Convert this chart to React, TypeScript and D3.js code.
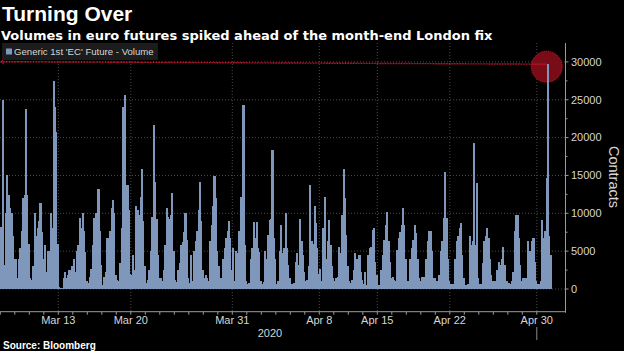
import React from "react";
import * as d3 from "d3";

// trading sessions shown on the axis (Good Friday Apr 10 is missing)
const tradingDays = [
  "Mar 9", "Mar 10", "Mar 11", "Mar 12", "Mar 13",
  "Mar 16", "Mar 17", "Mar 18", "Mar 19", "Mar 20",
  "Mar 23", "Mar 24", "Mar 25", "Mar 26", "Mar 27",
  "Mar 30", "Mar 31", "Apr 1", "Apr 2", "Apr 3",
  "Apr 6", "Apr 7", "Apr 8", "Apr 9",
  "Apr 13", "Apr 14", "Apr 15", "Apr 16", "Apr 17",
  "Apr 20", "Apr 21", "Apr 22", "Apr 23", "Apr 24",
  "Apr 27", "Apr 28", "Apr 29", "Apr 30",
];

const slotsPerDay = 10;

// contracts traded per intraday slot, one row per session
const volumes = [
  8200, 25000, 3200, 10000, 15000, 12400, 10700, 10000, 7000, 4000, // Mar 9
  4000, 1500, 4000, 5400, 7600, 12000, 12400, 23800, 12400, 6000, // Mar 10
  1500, 1200, 3000, 10000, 7000, 8000, 9000, 11300, 7500, 4000, // Mar 11
  5800, 2300, 5000, 5000, 10000, 8000, 27500, 24000, 20800, 6000, // Mar 12
  300, 100, 100, 1500, 2300, 1400, 1800, 2500, 1400, 3000, // Mar 13
  4000, 2300, 5000, 5800, 9400, 8000, 10000, 7600, 4900, 1000, // Mar 16
  800, 1600, 2700, 5800, 9400, 10000, 8500, 13200, 7600, 3200, // Mar 17
  500, 1600, 2300, 6700, 6700, 7600, 10700, 11800, 10000, 1800, // Mar 18
  1200, 1000, 3500, 8000, 24000, 25600, 12000, 13800, 10500, 2000, // Mar 19
  1800, 4500, 2500, 11000, 10500, 9800, 12200, 15800, 9000, 3000, // Mar 20
  800, 1200, 2500, 5000, 9500, 21700, 14200, 9300, 4500, 1400, // Mar 23
  1400, 1000, 2500, 5800, 10700, 9500, 9300, 9800, 12700, 5000, // Mar 24
  1200, 900, 2500, 3500, 5800, 6200, 7500, 10000, 6500, 1500, // Mar 25
  800, 4500, 1000, 5000, 6300, 7600, 10500, 14200, 9000, 2500, // Mar 26
  1400, 1800, 1400, 1000, 6300, 8500, 11000, 14900, 12000, 5000, // Mar 27
  3000, 1400, 1400, 4000, 5400, 6700, 7600, 9000, 6700, 2500, // Mar 30
  5400, 1000, 5000, 4800, 7600, 12200, 12000, 24300, 5800, 1000, // Mar 31
  700, 800, 4000, 5400, 8900, 6700, 8900, 5400, 4900, 1000, // Apr 1
  700, 900, 5000, 4000, 7100, 9100, 9300, 18400, 6700, 4000, // Apr 2
  700, 1000, 5000, 8500, 4700, 5400, 10000, 5400, 3200, 1400, // Apr 3
  700, 600, 800, 3600, 4700, 3200, 9300, 6300, 4500, 2300, // Apr 6
  1000, 1200, 3000, 13800, 6300, 6000, 11000, 8700, 5400, 2000, // Apr 7
  2700, 1000, 8000, 12200, 4000, 6300, 9100, 5800, 3000, 1500, // Apr 8
  1000, 1500, 1600, 5600, 4700, 9800, 15800, 12000, 7100, 3000, // Apr 9
  1000, 800, 1200, 2500, 4700, 4000, 2700, 4500, 2300, 1200, // Apr 13
  700, 2300, 500, 4500, 5400, 5600, 7800, 8000, 3600, 1800, // Apr 14
  500, 500, 2500, 4500, 6500, 8500, 10200, 6300, 3600, 1400, // Apr 15
  1600, 1200, 1000, 5200, 6700, 7500, 8500, 10700, 8500, 4000, // Apr 16
  1000, 1000, 4000, 5400, 6500, 8500, 7400, 4000, 1400, 1000, // Apr 17
  1600, 1600, 1600, 4000, 6300, 7600, 7600, 5000, 1400, 1400, // Apr 20
  1000, 1000, 1800, 5000, 6300, 9400, 15500, 9400, 4000, 1000, // Apr 21
  700, 600, 600, 4000, 6300, 7000, 8000, 8700, 4500, 1400, // Apr 22
  500, 500, 600, 7000, 5800, 6300, 19300, 5800, 14000, 1400, // Apr 23
  700, 700, 3500, 6300, 7000, 8000, 6700, 4000, 1800, 1000, // Apr 24
  1000, 1000, 2500, 3600, 3200, 4000, 5600, 3200, 1000, 1000, // Apr 27
  800, 700, 1000, 2300, 7600, 9800, 9800, 6700, 3200, 1000, // Apr 28
  1400, 1400, 1400, 6300, 5000, 5000, 6300, 6700, 3600, 1000, // Apr 29
  700, 700, 1000, 9100, 6700, 7600, 14600, 29700, 7000, 4500, // Apr 30
];

const xLabels = ["Mar 13", "Mar 20", "Mar 31", "Apr 8", "Apr 15", "Apr 22", "Apr 30"];
const yTicks = [0, 5000, 10000, 15000, 20000, 25000, 30000];

const W = 624;
const H = 351;
const FONT = "'Liberation Sans', Arial, sans-serif";
const barColor = "#7f97ba";
const gridColor = "#4a4a4a";
const textColor = "#d6d6d6";
const red = "#d31530";

export default function App() {
  const plotLeft = 0.3;
  const plotRight = 551.3;
  const axisX = 565.5;
  const plotTop = 43;
  const axisY = 311.7;

  const dayScale = d3.scaleBand().domain(tradingDays).range([plotLeft, plotRight]).padding(0);
  const slotKeys = volumes.map((_, i) => String(i));
  const x = d3.scaleBand().domain(slotKeys).range([plotLeft, plotRight]).padding(0);
  const y = d3.scaleLinear().domain([-3000, 32500]).range([axisY, plotTop]);

  const minorTicks = d3.range(2500, 32500, 5000);

  // the month-end spike gets the red call-out
  const maxIdx = d3.maxIndex(volumes);
  const maxX = (x(String(maxIdx)) as number) + x.bandwidth() / 2;
  const maxY = y(volumes[maxIdx]);

  return (
    <div style={{ position: "absolute", left: 0, top: 0 }}>
      <svg width={W} height={H} style={{ display: "block", background: "#000" }} fontFamily={FONT}>
        <rect width={W} height={H} fill="#000" />

        {/* titles */}
        <text x={2} y={21} fill="#fff" fontSize={21} fontWeight="bold">Turning Over</text>
        <text x={1} y={39.5} fill="#fff" fontSize={13} fontWeight="bold" fontFamily="'DejaVu Sans', sans-serif">
          Volumes in euro futures spiked ahead of the month-end London fix
        </text>

        {/* horizontal grid */}
        {yTicks.map(t => (
          <line key={"hg" + t} x1={0} x2={axisX} y1={y(t)} y2={y(t)} stroke={gridColor} strokeDasharray="1,2" />
        ))}
        {/* vertical grid at labelled sessions */}
        {xLabels.map(l => (
          <line key={"vg" + l} x1={dayScale(l)} x2={dayScale(l)} y1={plotTop} y2={axisY} stroke={gridColor} strokeDasharray="1,2" />
        ))}

        {/* highlight circle behind spike */}
        <circle cx={maxX - 1} cy={maxY + 2.5} r={15.5} fill="#7a0c18" stroke={red} strokeDasharray="1,1" />

        {/* bars */}
        <g shapeRendering="crispEdges">
          {volumes.map((v, i) => (
            <rect
              key={i}
              x={x(String(i))}
              y={y(v)}
              width={x.bandwidth() + 0.6}
              height={y(0) - y(v)}
              fill={barColor}
            />
          ))}
        </g>

        {/* annotation line */}
        <line x1={1} x2={maxX - 1} y1={maxY - 2.5} y2={maxY} stroke={red} strokeWidth={1.4} strokeDasharray="1,0.6" />
        <polyline points={`4,${maxY - 5} 1,${maxY - 2.5} 4,${maxY}`} fill="none" stroke={red} strokeWidth={1} />

        {/* legend */}
        <rect x={2} y={43} width={156} height={17} fill="#1c1c1c" />
        <rect x={6} y={48.5} width={6} height={6} fill={barColor} />
        <text x={14} y={55.3} fill={textColor} fontSize={9.6}>Generic 1st 'EC' Future - Volume</text>

        {/* x axis */}
        <line x1={0} x2={axisX} y1={axisY} y2={axisY} stroke="#9a9a9a" />
        {tradingDays.map(d => (
          <line key={"xt" + d} x1={dayScale(d)} x2={dayScale(d)} y1={axisY} y2={axisY + 3} stroke="#9a9a9a" />
        ))}
        {xLabels.map(l => (
          <text key={"xl" + l} x={dayScale(l)} y={324} fill={textColor} fontSize={11} textAnchor="middle">{l}</text>
        ))}
        <text x={270} y={337} fill={textColor} fontSize={11} textAnchor="middle">2020</text>
        <line x1={dayScale("Apr 30")} x2={dayScale("Apr 30")} y1={327} y2={340} stroke="#8a8a8a" />

        {/* y axis */}
        <line x1={axisX} x2={axisX} y1={plotTop} y2={axisY + 1} stroke="#9a9a9a" />
        {yTicks.map(t => (
          <g key={"yt" + t}>
            <line x1={axisX} x2={axisX + 3} y1={y(t)} y2={y(t)} stroke="#9a9a9a" />
            <text x={571} y={y(t)} dy="0.35em" fill={textColor} fontSize={11}>{t}</text>
          </g>
        ))}
        {minorTicks.map(t => (
          <line key={"ym" + t} x1={axisX} x2={axisX + 2} y1={y(t)} y2={y(t)} stroke="#9a9a9a" />
        ))}
        <text transform="translate(609,177) rotate(90)" fill={textColor} fontSize={14.5} textAnchor="middle">Contracts</text>

        {/* source */}
        <text x={3} y={349} fill="#fff" fontSize={10} fontWeight="bold">Source: Bloomberg</text>
      </svg>
    </div>
  );
}
